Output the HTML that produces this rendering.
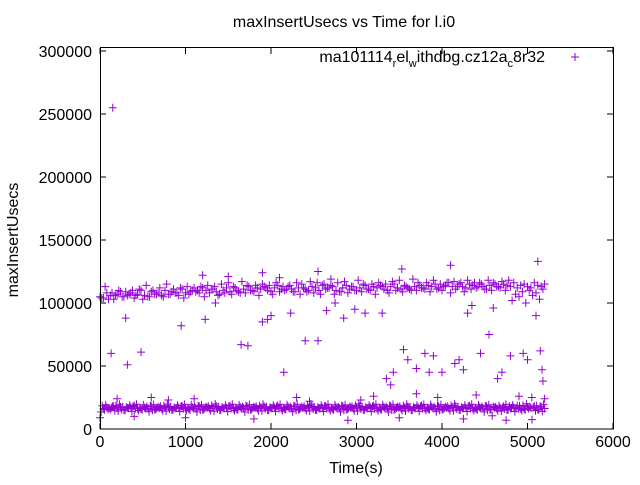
<!DOCTYPE html>
<html><head><meta charset="utf-8"><style>
body{margin:0;background:#fff}
svg text{font-family:"Liberation Sans",sans-serif;font-size:16px;fill:#000}
</style></head><body>
<svg id="chart" width="640" height="480" xmlns="http://www.w3.org/2000/svg">
<text x="344" y="27" text-anchor="middle" font-size="15">maxInsertUsecs vs Time for l.i0</text>
<text transform="translate(18,240) rotate(-90)" text-anchor="middle">maxInsertUsecs</text>
<text x="356" y="473" text-anchor="middle">Time(s)</text>
<g>
<text x="545" y="62" text-anchor="end">ma101114<tspan font-size="11" dy="5">r</tspan><tspan dy="-5">el</tspan><tspan font-size="11" dy="5">w</tspan><tspan dy="-5">ithdbg.cz12a</tspan><tspan font-size="11" dy="5">c</tspan><tspan dy="-5">8r32</tspan></text>
<path d="M571 57h8M575 53v8" stroke="#9400d3" stroke-width="1"/>
</g>
<g id="axes"></g><g id="marks"></g>
<rect x="100.5" y="47.5" width="513" height="381.5" fill="none" stroke="#000"/>
</svg>
<script>
const xTicks=[0,1000,2000,3000,4000,5000,6000];
const yTicks=[0,50000,100000,150000,200000,250000,300000];
const lowStep=40;
const lowVals=[9000,16000,17000,15500,18000,16500,17500,15000,16800,17200,18500,16000,15800,17000,16500,18000,15500,17500,16200,16900,17800,15200,16400,17100,18200,16000,15700,17300,16600,18100,15400,17600,16300,16800,17900,15100,16500,17000,18300,16100,15600,17400,16700,18000,15300,17700,16200,16900,17800,15000,16600,17200,18400,16000,15900,17500,16500,18100,15500,17600,16300,17000,17900,15200,16400,17100,18200,16100,15800,17300,16600,18000,15400,17700,16300,16800,18000,15100,16500,17200,18300,16000,15700,17400,16700,18200,15300,17600,16200,16900,17800,15000,16600,17300,18500,16200,15800,17500,16400,18100,15500,17700,16300,17000,18000,15200,16400,17100,18300,16000,15900,17300,16600,18000,15400,17800,16200,16800,17900,15100,16500,17200,18400,16100,15700,17400,16700,18200,15300,17600,16300,16900,17700];
const highVals=[105000,104000,108000,106000,103000,107000,109000,105000,106000,108000,104000,107000,110000,106000,105000,109000,107000,108000,106000,110000,107000,109000,108000,106000,111000,108000,107000,110000,109000,108000,112000,110000,108000,111000,109000,107000,110000,112000,109000,113000,110000,108000,111000,114000,110000,109000,112000,111000,113000,110000,109000,112000,114000,111000,110000,113000,111000,109000,112000,115000,111000,110000,113000,112000,110000,114000,111000,112000,113000,110000,109000,112000,114000,111000,113000,110000,112000,115000,111000,110000,113000,112000,114000,111000,110000,113000,115000,112000,111000,114000,112000,110000,113000,116000,112000,111000,114000,113000,115000,112000,110000,114000,116000,113000,111000,115000,113000,112000,115000,114000,112000,116000,113000,111000,114000,116000,113000,112000,115000,114000,113000,116000,112000,114000,115000,113000,112000,116000,114000,113000,115000];
const outT=[150,130,480,300,320,950,1230,1350,1650,1730,1900,1960,2000,2150,2230,2400,2550,2650,2750,2850,2980,3100,3300,3350,3400,3430,3550,3600,3700,3800,3850,3900,4000,4150,4200,4250,4300,4350,4450,4550,4700,4650,4800,4950,5000,5100,5150,5170,5180,5120,4100,3530,1900,2550,1200,2100,2700,1500,600,200,3200,4400,2300,800,1100,3700,4900,5050,1800,2900,3500,4250,4750,1000,400,5200,2450,3050,3950,4600];
const outV=[255000,60000,61000,88000,51000,82000,87000,100000,67000,66000,85000,87000,90000,45000,92000,70000,70000,94000,100000,88000,95000,92000,92000,40000,35000,45000,63000,55000,48000,60000,45000,58000,45000,52000,55000,47000,92000,98000,60000,75000,45000,40000,58000,60000,55000,90000,62000,47000,38000,133000,130000,127000,124000,125000,122000,120000,119000,121000,25000,24000,26000,27000,25000,23000,24000,28000,26000,25000,8000,7000,9000,8000,7000,9000,10000,24000,22000,23000,25000,96000];
const X0=100,X1=613,Y0=429,Y1=51;
const sx=v=>X0+(v-0)/6000*(X1-X0);
const sy=v=>Y0-(v-0)/300000*(Y0-Y1);
const ns="http://www.w3.org/2000/svg";
const axes=document.getElementById('axes'),marks=document.getElementById('marks');
xTicks.forEach(t=>{
 const x=sx(t);
 const l=document.createElementNS(ns,'path');
 l.setAttribute('d',`M${x} 429v-6M${x} 48v6`);l.setAttribute('stroke','#000');
 
 
 axes.appendChild(l);
 const tx=document.createElementNS(ns,'text');
 tx.setAttribute('x',x);tx.setAttribute('y',447);tx.setAttribute('text-anchor','middle');tx.textContent=t;
 
 
 axes.appendChild(tx);
});
yTicks.forEach(t=>{
 const y=sy(t);
 const l=document.createElementNS(ns,'path');
 l.setAttribute('d',`M100 ${y}h6M613 ${y}h-6`);l.setAttribute('stroke','#000');
 
 
 axes.appendChild(l);
 const tx=document.createElementNS(ns,'text');
 tx.setAttribute('x',92);tx.setAttribute('y',y+6);tx.setAttribute('text-anchor','end');tx.textContent=t;
 
 
 axes.appendChild(tx);
});
let d='';
const add=(t,v)=>{const x=sx(t),y=sy(v);d+=`M${(x-4).toFixed(1)} ${y.toFixed(1)}h8M${x.toFixed(1)} ${(y-4).toFixed(1)}v8`;};
const N=lowVals.length;
lowVals.forEach((v,i)=>{
 if(i*lowStep>5200)return;
 add(i*lowStep,v);
 if(i*lowStep+13<=5200)add(i*lowStep+13,lowVals[(i+7)%N]-1500);
 if(i*lowStep+27<=5200)add(i*lowStep+27,lowVals[(i+19)%N]+1500);
});
highVals.forEach((v,i)=>{
 if(i*lowStep>5200)return;
 add(i*lowStep,v);
 if(i*lowStep+20<=5200)add(i*lowStep+20,highVals[(i+11)%highVals.length]+(i%2?3000:-3000));
});
outT.forEach((t,i)=>add(t,outV[i]));
const p=document.createElementNS(ns,'path');
p.setAttribute('d',d);p.setAttribute('stroke','#9400d3');p.setAttribute('fill','none');


marks.appendChild(p);
</script>
</body></html>
